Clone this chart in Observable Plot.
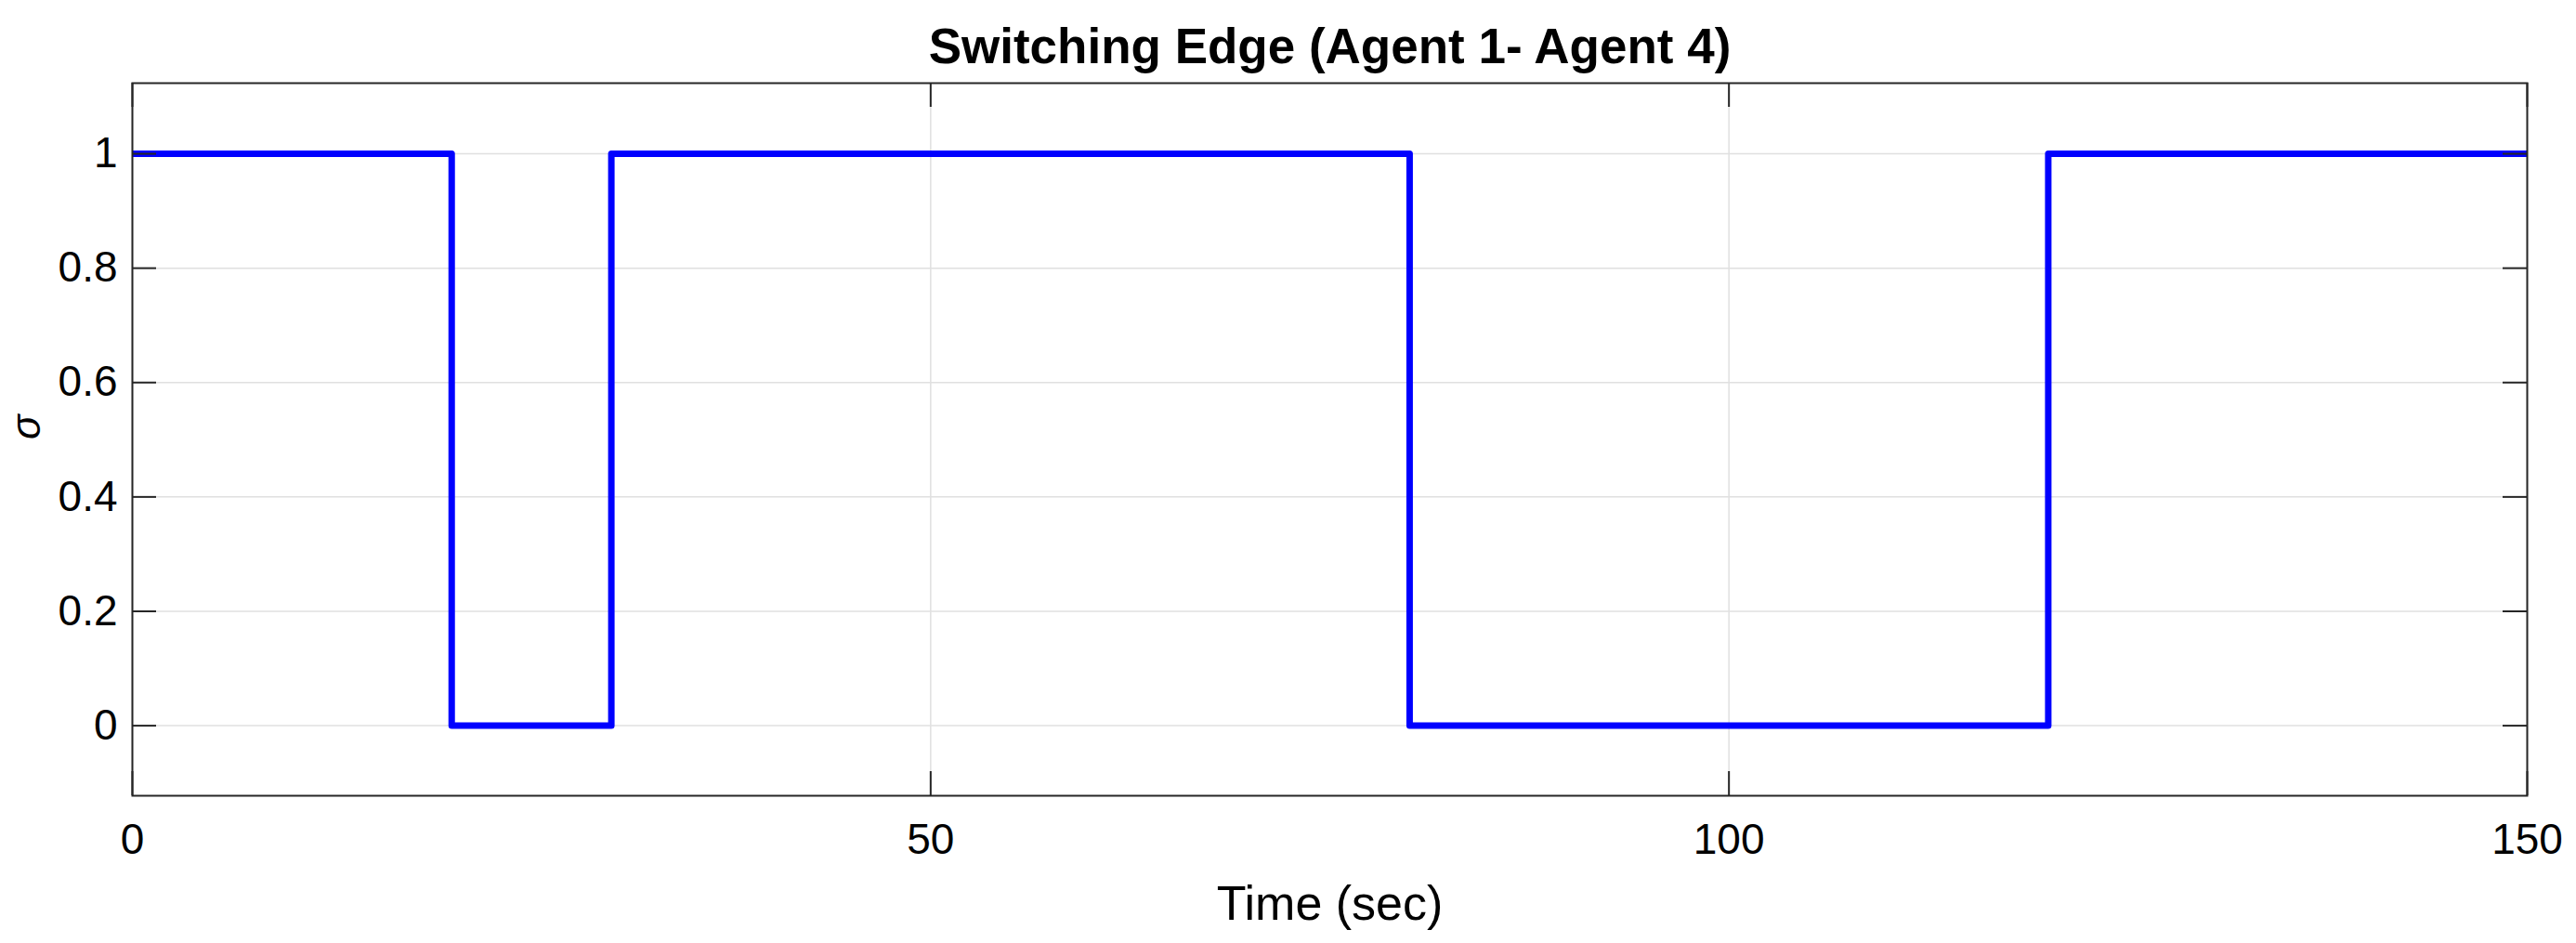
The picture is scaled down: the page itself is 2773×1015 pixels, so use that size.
<!DOCTYPE html>
<html>
<head>
<meta charset="utf-8">
<script src="https://cdn.jsdelivr.net/npm/d3@7"></script>
<script src="https://cdn.jsdelivr.net/npm/@observablehq/plot@0.6"></script>
<style>
  html, body { margin: 0; padding: 0; background: #fff; }
  svg { display: block; }
</style>
</head>
<body>
<div id="chart"></div>
<script>
// Data: switching signal sigma over time (step function)
const times = [0, 20, 30, 80, 120, 150];
const sigma = [1, 0, 1, 0, 1, 1];
const xTicks = [0, 50, 100, 150];
const yTicks = [0, 0.2, 0.4, 0.6, 0.8, 1];
const title = "Switching Edge (Agent 1- Agent 4)";
const xLabel = "Time (sec)";
const yLabel = "σ";

const data = times.map((t, i) => ({t, s: sigma[i]}));

const W = 2773, H = 1015;
const mLeft = 142, mRight = 53, mTop = 89, mBottom = 159;
const plotW = W - mLeft - mRight;
const plotH = H - mTop - mBottom;
const tickLen = 26;
const axisColor = "#262626";
const gridColor = "#e0e0e0";

const chart = Plot.plot({
  width: W,
  height: H,
  marginLeft: mLeft,
  marginRight: mRight,
  marginTop: mTop,
  marginBottom: mBottom,
  style: {fontFamily: "'Liberation Sans', Arial, Helvetica, sans-serif", background: "#fff", color: "#000"},
  x: {type: "linear", domain: [0, 150]},
  y: {type: "linear", domain: [-0.1225, 1.1235]},
  marks: [
    // grid
    Plot.ruleX(xTicks, {stroke: gridColor, strokeWidth: 1.5}),
    Plot.ruleY(yTicks, {stroke: gridColor, strokeWidth: 1.5}),
    // data line
    Plot.line(data, {x: "t", y: "s", curve: "step-after", stroke: "#0000ff", strokeWidth: 7, strokeLinejoin: "round", strokeLinecap: "butt"}),
    // frame
    Plot.frame({stroke: axisColor, strokeWidth: 2}),
    // inward ticks: bottom, top, left, right
    Plot.ruleX(xTicks, {stroke: axisColor, strokeWidth: 2, insetTop: plotH - tickLen}),
    Plot.ruleX(xTicks, {stroke: axisColor, strokeWidth: 2, insetBottom: plotH - tickLen}),
    Plot.ruleY(yTicks, {stroke: axisColor, strokeWidth: 2, insetRight: plotW - tickLen}),
    Plot.ruleY(yTicks, {stroke: axisColor, strokeWidth: 2, insetLeft: plotW - tickLen}),
    // axis labels
    Plot.axisX(xTicks, {anchor: "bottom", tickSize: 0, tickPadding: 30, fontSize: 46, label: null, tickFormat: d => String(d), fill: "#000"}),
    Plot.axisY(yTicks, {anchor: "left", tickSize: 0, tickPadding: 16, fontSize: 46, label: null, tickFormat: d => String(d), fill: "#000"}),
    // titles
    Plot.text([title], {frameAnchor: "top", dy: -38, fontSize: 53, fontWeight: "bold", lineAnchor: "middle", fill: "#000"}),
    Plot.text([xLabel], {frameAnchor: "bottom", dy: 117, fontSize: 52, lineAnchor: "middle", fill: "#000"}),
    Plot.text([yLabel], {frameAnchor: "left", dx: -114, rotate: -90, fontSize: 44, fontStyle: "italic", lineAnchor: "middle", fill: "#000"})
  ]
});

document.getElementById("chart").appendChild(chart);
</script>
</body>
</html>
